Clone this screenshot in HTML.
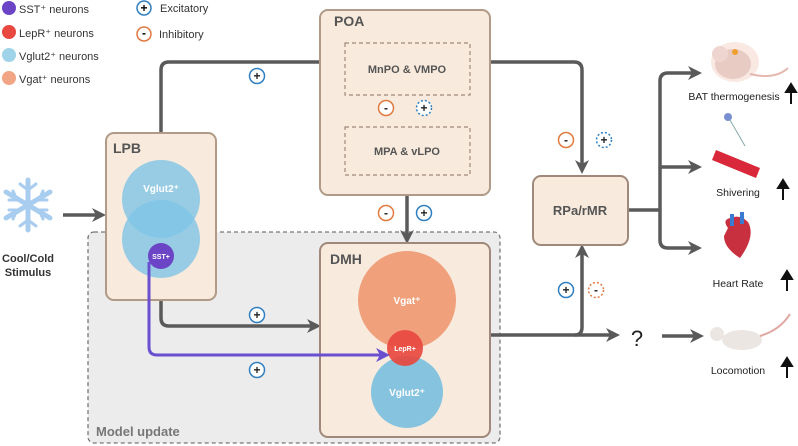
<!DOCTYPE html>
<html><head><meta charset="utf-8"><style>
body{margin:0;background:#fff}
svg{display:block;font-family:"Liberation Sans",Arial,sans-serif}
</style></head><body>
<svg width="798" height="446" viewBox="0 0 798 446" xmlns="http://www.w3.org/2000/svg">
<defs>
<marker id="ah" markerWidth="14" markerHeight="14" refX="10" refY="7" orient="auto" markerUnits="userSpaceOnUse"><path d="M0,0 L14,7 L0,14 L4,7 Z" fill="#5a5a5a"/></marker>
<marker id="ap" markerWidth="14" markerHeight="14" refX="10" refY="7" orient="auto" markerUnits="userSpaceOnUse"><path d="M0,0 L14,7 L0,14 L4,7 Z" fill="#6a4fd0"/></marker>
</defs>
<!-- legend -->
<circle cx="9" cy="8" r="7" fill="#6b45c6"/><text x="19" y="13" font-size="11" fill="#333">SST⁺ neurons</text>
<circle cx="9" cy="32" r="7" fill="#e8483f"/><text x="19" y="37" font-size="11" fill="#333">LepR⁺ neurons</text>
<circle cx="9" cy="55" r="7" fill="#9fd3ea"/><text x="19" y="60" font-size="11" fill="#333">Vglut2⁺ neurons</text>
<circle cx="9" cy="78" r="7" fill="#f2a585"/><text x="19" y="83" font-size="11" fill="#333">Vgat⁺ neurons</text>
<g font-size="12" font-weight="bold" text-anchor="middle">
<circle cx="144" cy="8" r="7" fill="#fff" stroke="#2f7fc0" stroke-width="1.5"/><text x="144" y="12">+</text>
<circle cx="144" cy="34" r="7" fill="#fff" stroke="#e07a40" stroke-width="1.5"/><text x="144" y="37">-</text>
</g>
<text x="160" y="12" font-size="11" fill="#333">Excitatory</text>
<text x="159" y="38" font-size="11" fill="#333">Inhibitory</text>

<!-- model update -->
<rect x="88" y="232" width="412" height="211" rx="6" fill="#ececec" stroke="#777" stroke-width="1.3" stroke-dasharray="4,3"/>
<text x="96" y="436" font-size="13" font-weight="bold" fill="#777">Model update</text>

<!-- connectors -->
<g fill="none" stroke="#5a5a5a" stroke-width="3.5">
<path d="M161,160 V70 Q161,62 169,62 H338" marker-end="url(#ah)"/>
<path d="M490,62 H574 Q582,62 582,70 V170" marker-end="url(#ah)"/>
<path d="M407,96 V125" marker-end="url(#ah)"/>
<path d="M407,196 V240" marker-end="url(#ah)"/>
<path d="M161,270 V318 Q161,326 169,326 H317" marker-end="url(#ah)"/>
<path d="M490,335 H616" marker-end="url(#ah)"/>
<path d="M575,335 Q582,335 582,327 V248" marker-end="url(#ah)"/>
<path d="M628,210 H660"/>
<path d="M660,210 V81 Q660,73 668,73 H698" marker-end="url(#ah)"/>
<path d="M660,167 H698" marker-end="url(#ah)"/>
<path d="M660,210 V240 Q660,248 668,248 H698" marker-end="url(#ah)"/>
<path d="M662,336 H700" marker-end="url(#ah)"/>
<path d="M63,215 H102" marker-end="url(#ah)"/>
</g>

<!-- POA -->
<rect x="320" y="10" width="170" height="185" rx="8" fill="#f8ebdd" stroke="#b19a87" stroke-width="2"/>
<text x="334" y="26" font-size="14" font-weight="bold" fill="#555">POA</text>
<rect x="345" y="43" width="125" height="52" fill="none" stroke="#a0887a" stroke-width="1.2" stroke-dasharray="4,3"/>
<text x="407" y="73" font-size="11" font-weight="bold" fill="#555" text-anchor="middle">MnPO &amp; VMPO</text>
<rect x="345" y="127" width="125" height="48" fill="none" stroke="#a0887a" stroke-width="1.2" stroke-dasharray="4,3"/>
<text x="407" y="155" font-size="11" font-weight="bold" fill="#555" text-anchor="middle">MPA &amp; vLPO</text>

<!-- LPB -->
<rect x="106" y="133" width="110" height="167" rx="8" fill="#f8ebdd" stroke="#b19a87" stroke-width="2"/>
<text x="113" y="153" font-size="14" font-weight="bold" fill="#555">LPB</text>
<circle cx="161" cy="199" r="39" fill="#7fc4e6" opacity="0.8"/>
<circle cx="161" cy="239" r="39" fill="#7fc4e6" opacity="0.8"/>
<text x="161" y="192" font-size="10" font-weight="bold" fill="#fff" text-anchor="middle">Vglut2⁺</text>
<circle cx="161" cy="256" r="13" fill="#6b45c6"/>
<text x="161" y="259" font-size="7" font-weight="bold" fill="#fff" text-anchor="middle">SST+</text>

<!-- DMH -->
<rect x="320" y="243" width="170" height="194" rx="8" fill="#f8ebdd" stroke="#a0887a" stroke-width="2"/>
<text x="330" y="264" font-size="14" font-weight="bold" fill="#555">DMH</text>
<circle cx="407" cy="300" r="49" fill="#f0a17c"/>
<text x="407" y="304" font-size="10" font-weight="bold" fill="#fff" text-anchor="middle">Vgat⁺</text>
<circle cx="407" cy="392" r="36" fill="#85c3df"/>
<text x="407" y="396" font-size="10" font-weight="bold" fill="#fff" text-anchor="middle">Vglut2⁺</text>
<circle cx="405" cy="348" r="18" fill="#e8483f" opacity="0.92"/>
<text x="405" y="351" font-size="7" font-weight="bold" fill="#fff" text-anchor="middle">LepR+</text>

<path d="M149,262 V347 Q149,355 157,355 H386" fill="none" stroke="#6a4fd0" stroke-width="3" marker-end="url(#ap)"/>

<!-- RPa -->
<rect x="533" y="176" width="95" height="69" rx="8" fill="#f8ebdd" stroke="#a0887a" stroke-width="2"/>
<text x="580" y="215" font-size="13" font-weight="bold" fill="#555" text-anchor="middle">RPa/rMR</text>

<!-- signs -->
<g font-size="12" font-weight="bold" text-anchor="middle" fill="#222">
<circle cx="257" cy="76" r="7.5" fill="#fff" stroke="#2f7fc0" stroke-width="1.5"/><text x="257" y="80">+</text>
<circle cx="386" cy="108" r="7.5" fill="#fff" stroke="#e07a40" stroke-width="1.5"/><text x="386" y="112">-</text>
<circle cx="424" cy="108" r="7.5" fill="#fff" stroke="#2f7fc0" stroke-width="1.5" stroke-dasharray="2,2"/><text x="424" y="112">+</text>
<circle cx="386" cy="213" r="7.5" fill="#fff" stroke="#e07a40" stroke-width="1.5"/><text x="386" y="217">-</text>
<circle cx="424" cy="213" r="7.5" fill="#fff" stroke="#2f7fc0" stroke-width="1.5"/><text x="424" y="217">+</text>
<circle cx="566" cy="140" r="7.5" fill="#fff" stroke="#e07a40" stroke-width="1.5"/><text x="566" y="144">-</text>
<circle cx="604" cy="140" r="7.5" fill="#fff" stroke="#2f7fc0" stroke-width="1.5" stroke-dasharray="2,2"/><text x="604" y="144">+</text>
<circle cx="257" cy="315" r="7.5" fill="#fff" stroke="#2f7fc0" stroke-width="1.5"/><text x="257" y="319">+</text>
<circle cx="257" cy="370" r="7.5" fill="#fff" stroke="#2f7fc0" stroke-width="1.5"/><text x="257" y="374">+</text>
<circle cx="566" cy="290" r="7.5" fill="#fff" stroke="#2f7fc0" stroke-width="1.5"/><text x="566" y="294">+</text>
<circle cx="596" cy="290" r="7.5" fill="#fff" stroke="#e07a40" stroke-width="1.5" stroke-dasharray="2,2"/><text x="596" y="294">-</text>
</g>

<!-- snowflake -->
<g stroke="#a9cdef" stroke-width="5" stroke-linecap="round" fill="none">
<path d="M28,180 V230 M6,192 L50,218 M6,218 L50,192"/>
<path d="M20,184 L28,190 L36,184 M20,226 L28,220 L36,226 M9,200 L17,200 L13,191 M47,200 L39,200 L43,191 M9,210 L17,210 L13,219 M47,210 L39,210 L43,219" stroke-width="3"/>
</g>
<text x="28" y="262" font-size="11" font-weight="bold" fill="#333" text-anchor="middle">Cool/Cold</text>
<text x="28" y="276" font-size="11" font-weight="bold" fill="#333" text-anchor="middle">Stimulus</text>

<text x="637" y="346" font-size="22" fill="#222" text-anchor="middle">?</text>

<!-- right images -->
<ellipse cx="735" cy="62" rx="24" ry="20" fill="#f7d9d0" opacity="0.6"/>
<ellipse cx="733" cy="64" rx="18" ry="15" fill="#e8ccc4"/>
<circle cx="720" cy="54" r="8" fill="#eed5cf"/>
<path d="M750,74 Q775,80 788,68" stroke="#e5b8b0" stroke-width="2" fill="none"/>
<circle cx="735" cy="52" r="3" fill="#f0a030"/>
<path d="M730,120 L745,146" stroke="#8aa" stroke-width="1"/>
<circle cx="728" cy="117" r="4" fill="#7a8fd0"/>
<path d="M716,150 L760,168 L756,178 L712,160 Z" fill="#d8283a"/>
<path d="M728,228 Q722,220 730,218 Q740,214 748,222 Q756,236 740,258 Q724,248 724,236 Z" fill="#c83040"/>
<path d="M732,214 V226 M742,212 V224" stroke="#3a7ad0" stroke-width="4"/>
<ellipse cx="742" cy="340" rx="20" ry="10" fill="#ece6e3"/>
<circle cx="717" cy="334" r="7" fill="#ece6e3"/>
<path d="M760,336 Q780,330 790,314" stroke="#e0a6a0" stroke-width="2" fill="none"/>

<g font-size="10.5" fill="#222" text-anchor="middle">
<text x="734" y="100">BAT thermogenesis</text>
<text x="738" y="196">Shivering</text>
<text x="738" y="287">Heart Rate</text>
<text x="738" y="374">Locomotion</text>
</g>
<g stroke="#111" stroke-width="2" fill="#111">
<path d="M791,104 V90"/><path d="M786,92 L791,84 L796,92 Z"/>
<path d="M783,200 V186"/><path d="M778,188 L783,180 L788,188 Z"/>
<path d="M787,291 V277"/><path d="M782,279 L787,271 L792,279 Z"/>
<path d="M787,378 V364"/><path d="M782,366 L787,358 L792,366 Z"/>
</g>
</svg>
</body></html>
